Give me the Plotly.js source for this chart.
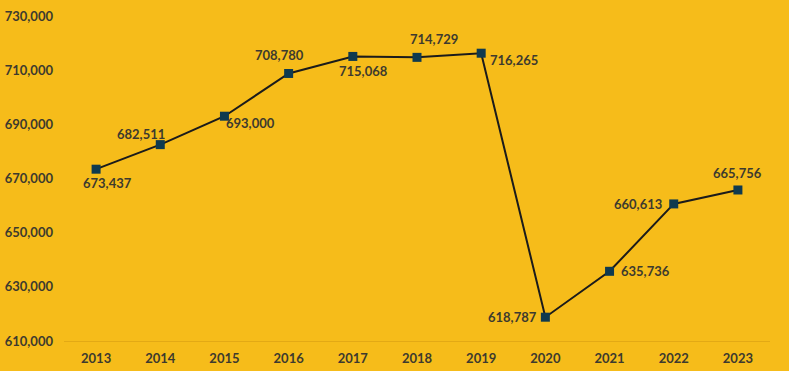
<!DOCTYPE html>
<html>
<head>
<meta charset="utf-8">
<script src="https://cdn.plot.ly/plotly-3.0.1.min.js"></script>
<style>html,body{margin:0;padding:0;background:#F6BC1A;}#chart{width:789px;height:371px;}</style>
</head>
<body>
<div id="chart"></div>
<script>
const years = ["2013","2014","2015","2016","2017","2018","2019","2020","2021","2022","2023"];
const values = [673437, 682511, 693000, 708780, 715068, 714729, 716265, 618787, 635736, 660613, 665756];
const yTicks = [610000, 630000, 650000, 670000, 690000, 710000, 730000];

// label offsets from each marker, in pixels (style only)
const labelDx = [11, -19, 26, -9, 11, 17, 33, -33, 36, -36, 0];
const labelDy = [14, -11, 7, -18, 15, -18, 7, 0, 0, 0, -17];

const fmt = v => v.toLocaleString("en-US");
const FONT = "Lato, 'Open Sans', sans-serif";
const TXT = "#3d3a2e";

const trace = {
  x: years,
  y: values,
  type: "scatter",
  mode: "lines+markers",
  line: {color: "#1b1b1b", width: 2},
  marker: {symbol: "square", size: 9, color: "#0f3a4f"},
  cliponaxis: false,
  hoverinfo: "skip"
};

// category index i corresponds to years[i] on the category axis
const annotations = years.map((yr, i) => ({
  x: i, y: values[i], xref: "x", yref: "y",
  text: fmt(values[i]),
  showarrow: false,
  xanchor: "center", yanchor: "middle",
  xshift: labelDx[i], yshift: -labelDy[i],
  font: {family: FONT, size: 13, color: TXT, weight: "bold"}
}));

const layout = {
  width: 789, height: 371,
  paper_bgcolor: "#F6BC1A",
  plot_bgcolor: "#F6BC1A",
  margin: {l: 64, r: 19, t: 16, b: 30},
  showlegend: false,
  font: {family: FONT, size: 13, color: TXT, weight: "bold"},
  annotations: annotations,
  xaxis: {
    type: "category",
    categoryarray: years,
    range: [-0.5, 10.5],
    showgrid: false,
    zeroline: false,
    showline: true,
    linecolor: "#e3a915",
    linewidth: 1,
    ticks: "",
    ticklabelstandoff: 5,
    tickfont: {family: FONT, size: 13, color: TXT, weight: "bold"}
  },
  yaxis: {
    range: [610000, 730000],
    tickvals: yTicks,
    ticktext: yTicks.map(fmt),
    showgrid: false,
    zeroline: false,
    showline: false,
    ticks: "",
    ticklabelstandoff: 10,
    tickfont: {family: FONT, size: 13, color: TXT, weight: "bold"}
  }
};

Plotly.newPlot("chart", [trace], layout, {displayModeBar: false, staticPlot: true});
</script>
</body>
</html>
